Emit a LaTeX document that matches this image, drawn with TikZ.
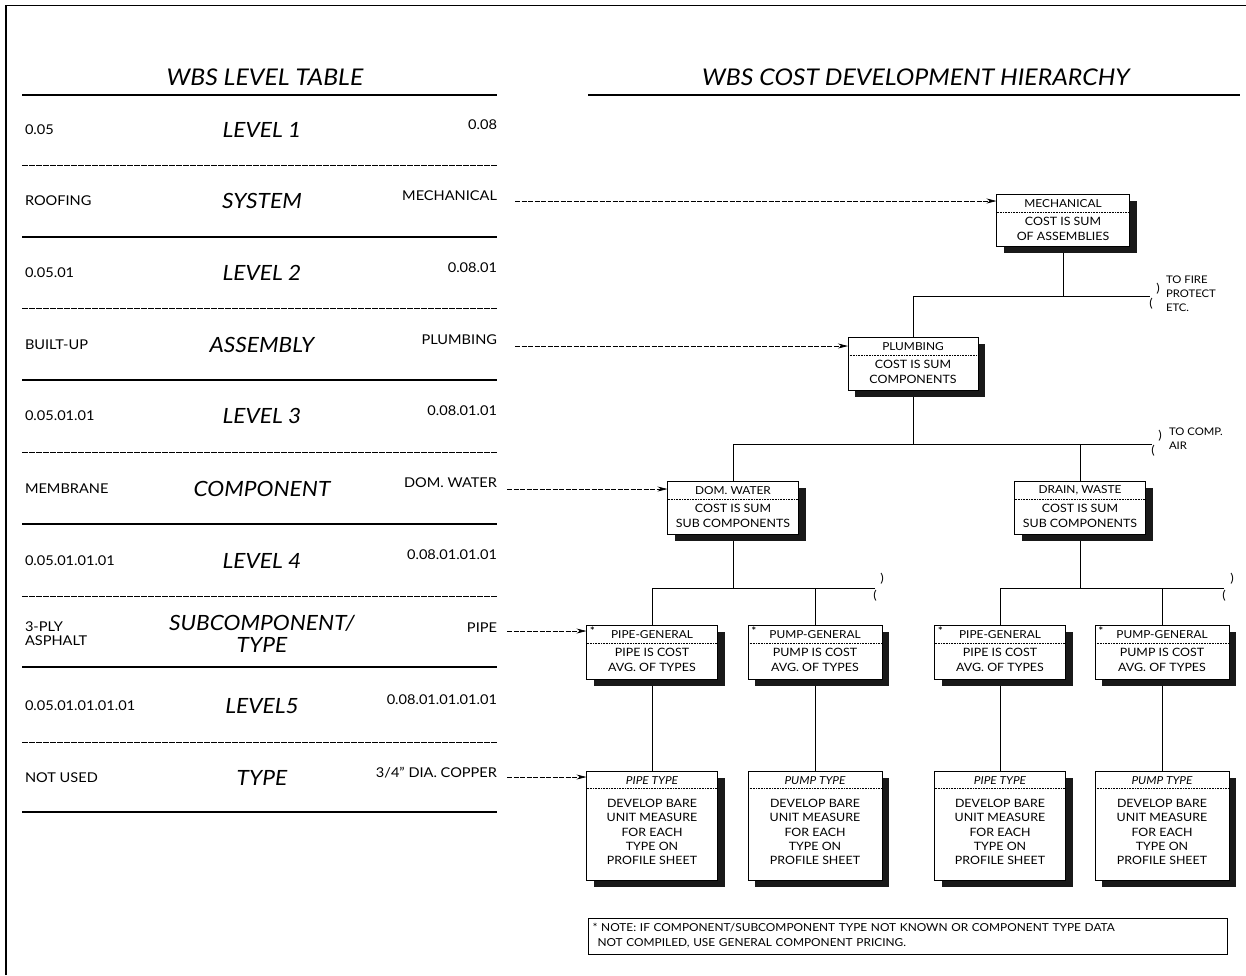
\documentclass[tikz,border=0pt]{standalone}
\usepackage{fontspec}
\setmainfont{Lato}[FakeStretch=1.08]
\usetikzlibrary{arrows.meta,shadows,calc}
\pgfdeclarelayer{bg}
\pgfsetlayers{bg,main}

% box with header, dotted separator and two-line body
\newcommand\costbox[8]{% name, cx, top, w, h, header, body, star
  \node[cbox, minimum width=#4pt, minimum height=#5pt] (#1) at (#2,#3) {};
  \node[hdr] (#1-h) at ($(#1.north)+(0,9.5)$) {#6};
  \draw[sepline] ($(#1.north west)+(0,18)$) -- ($(#1.north east)+(0,18)$);
  \node[body] (#1-b) at ($(#1.north)+(0,35)$) {#7};
  \ifx#8y\node[star] (#1-s) at ($(#1.north west)+(6,6)$) {*};\fi
}
% tall box for the type level
\newcommand\typebox[5]{% name, cx, top, w, header
  \node[cbox, minimum width=#4pt, minimum height=109pt] (#1) at (#2,#3) {};
  \node[hdr, font=\fontsize{11}{12}\selectfont\itshape] (#1-h) at ($(#1.north)+(0,9.5)$) {#5};
  \draw[sepline] ($(#1.north west)+(0,17)$) -- ($(#1.north east)+(0,17)$);
  \node[body, font=\fontsize{11.5}{14.2}\selectfont] (#1-b) at ($(#1.north)+(0,61)$) {DEVELOP BARE\\UNIT MEASURE\\FOR EACH\\TYPE ON\\PROFILE SHEET};
}

\begin{document}
\begin{tikzpicture}[x=1pt,y=-1pt,
  every node/.style={inner sep=0pt, outer sep=0pt},
  ttl/.style={font=\fontsize{23}{25}\selectfont\itshape},
  lvl/.style={font=\fontsize{21}{22}\selectfont\itshape, align=center},
  cell/.style={font=\fontsize{13.5}{14}\selectfont, anchor=west, align=left},
  rcell/.style={font=\fontsize{13.5}{14}\selectfont, anchor=east},
  thickrule/.style={line width=2.2pt},
  thinrule/.style={line width=0.8pt, dash pattern=on 6pt off 1pt},
  feed/.style={line width=0.7pt, dash pattern=on 5pt off 1.5pt, -{Stealth[length=10pt,width=5pt]}},
  tree/.style={line width=0.8pt},
  cbox/.style={draw, line width=0.7pt, fill=white, rectangle, anchor=north,
    drop shadow={shadow xshift=7pt, shadow yshift=-7pt, fill=black!90, opacity=1}},
  hdr/.style={font=\fontsize{11}{12}\selectfont},
  body/.style={font=\fontsize{11.5}{14.5}\selectfont, align=center},
  sepline/.style={line width=0.6pt, densely dotted},
  star/.style={font=\fontsize{10}{10}\selectfont\bfseries},
  brk/.style={font=\fontsize{12}{12}\selectfont},
  side/.style={font=\fontsize{10.5}{14}\selectfont, anchor=north west, align=left},
]
\useasboundingbox (0,0) rectangle (1246,975);

% sheet frame
\draw[line width=1.8pt] (6,975) -- (6,5);
\draw[line width=0.8pt] (6,5) -- (1246,5);

% ---------------- level table ----------------
\node[ttl] (t1) at (265,77) {WBS LEVEL TABLE};
\draw[thickrule] (22,95) -- (497,95);

\node[cell] (l1) at (25,130) {0.05};
\node[lvl] (c1) at (262,130) {LEVEL 1};
\node[rcell] (r1) at (497,125) {0.08};
\draw[thinrule] (22,165) -- (497,165);

\node[cell] (l2) at (25,201) {ROOFING};
\node[lvl] (c2) at (262,201) {SYSTEM};
\node[rcell] (r2) at (497,196) {MECHANICAL};
\draw[thickrule] (22,237) -- (497,237);

\node[cell] (l3) at (25,273) {0.05.01};
\node[lvl] (c3) at (262,273) {LEVEL 2};
\node[rcell] (r3) at (497,268) {0.08.01};
\draw[thinrule] (22,308) -- (497,308);

\node[cell] (l4) at (25,345) {BUILT-UP};
\node[lvl] (c4) at (262,345) {ASSEMBLY};
\node[rcell] (r4) at (497,340) {PLUMBING};
\draw[thickrule] (22,380) -- (497,380);

\node[cell] (l5) at (25,416) {0.05.01.01};
\node[lvl] (c5) at (262,416) {LEVEL 3};
\node[rcell] (r5) at (497,411) {0.08.01.01};
\draw[thinrule] (22,452) -- (497,452);

\node[cell] (l6) at (25,489) {MEMBRANE};
\node[lvl] (c6) at (262,489) {COMPONENT};
\node[rcell] (r6) at (497,483) {DOM. WATER};
\draw[thickrule] (22,524) -- (497,524);

\node[cell] (l7) at (25,561) {0.05.01.01.01};
\node[lvl] (c7) at (262,561) {LEVEL 4};
\node[rcell] (r7) at (497,555) {0.08.01.01.01};
\draw[thinrule] (22,596) -- (497,596);

\node[cell] (l8) at (25,634) {3-PLY\\ASPHALT};
\node[lvl] (c8) at (262,634) {SUBCOMPONENT/\\TYPE};
\node[rcell] (r8) at (497,628) {PIPE};
\draw[thickrule] (22,667) -- (497,667);

\node[cell] (l9) at (25,706) {0.05.01.01.01.01};
\node[lvl] (c9) at (262,706) {LEVEL5};
\node[rcell] (r9) at (497,700) {0.08.01.01.01.01};
\draw[thinrule] (22,742) -- (497,742);

\node[cell] (l10) at (25,778) {NOT USED};
\node[lvl] (c10) at (262,778) {TYPE};
\node[rcell] (r10) at (497,773) {3/4" DIA. COPPER};
\draw[thickrule] (22,812) -- (497,812);

% ---------------- cost hierarchy ----------------
\node[ttl] (t2) at (916,77) {WBS COST DEVELOPMENT HIERARCHY};
\draw[thickrule] (588,95) -- (1240,95);

\costbox{mech}{1063}{194}{133}{52}{MECHANICAL}{COST IS SUM\\OF ASSEMBLIES}{n}
\costbox{plumb}{913}{337}{130}{53}{PLUMBING}{COST IS SUM\\COMPONENTS}{n}
\costbox{dom}{733}{481}{131}{53}{DOM. WATER}{COST IS SUM\\SUB COMPONENTS}{n}
\costbox{drain}{1080}{481}{131}{53}{DRAIN, WASTE}{COST IS SUM\\SUB COMPONENTS}{n}
\costbox{pipega}{652}{625}{131}{54}{PIPE-GENERAL}{PIPE IS COST\\AVG. OF TYPES}{y}
\costbox{pumpga}{815}{625}{134}{54}{PUMP-GENERAL}{PUMP IS COST\\AVG. OF TYPES}{y}
\costbox{pipegb}{1000}{625}{131}{54}{PIPE-GENERAL}{PIPE IS COST\\AVG. OF TYPES}{y}
\costbox{pumpgb}{1162}{625}{134}{54}{PUMP-GENERAL}{PUMP IS COST\\AVG. OF TYPES}{y}

\typebox{pipeta}{652}{771}{131}{PIPE TYPE}
\typebox{pumpta}{815}{771}{134}{PUMP TYPE}
\typebox{pipetb}{1000}{771}{131}{PIPE TYPE}
\typebox{pumptb}{1162}{771}{134}{PUMP TYPE}

% junctions and open branch ends
\coordinate (j1) at (1063,296);
\coordinate (e1) at (1150,296);
\coordinate (j2) at (913,444);
\coordinate (e2) at (1152,444);
\coordinate (j3) at (733,588);
\coordinate (e3) at (875,588);
\coordinate (j4) at (1080,588);
\coordinate (e4) at (1224,588);

\node[brk] (b1a) at (1158,289) {)};
\node[brk] (b1b) at (1151,304) {(};
\node[side] (n1) at (1166,276) {TO FIRE\\PROTECT\\ETC.};
\node[brk] (b2a) at (1160,436) {)};
\node[brk] (b2b) at (1153,451) {(};
\node[side] (n2) at (1169,428) {TO COMP.\\AIR};
\node[brk] (b3a) at (882,579) {)};
\node[brk] (b3b) at (875,596) {(};
\node[brk] (b4a) at (1232,579) {)};
\node[brk] (b4b) at (1224,596) {(};

% feeds from the level table
\coordinate (f1) at (515,201);
\coordinate (f2) at (515,346);
\coordinate (f3) at (507,489);
\coordinate (f4) at (507,631);
\coordinate (f5) at (507,777);

\begin{pgfonlayer}{bg}
  \draw[tree] (mech.south) -- (j1);
  \draw[tree] (plumb.north) -- (plumb.north |- j1) -- (e1);
  \draw[tree] (plumb.south) -- (j2);
  \draw[tree] (dom.north) -- (dom.north |- j2) -- (e2);
  \draw[tree] (drain.north) -- (drain.north |- j2);
  \draw[tree] (dom.south) -- (j3);
  \draw[tree] (pipega.north) -- (pipega.north |- j3) -- (e3);
  \draw[tree] (pumpga.north) -- (pumpga.north |- j3);
  \draw[tree] (drain.south) -- (j4);
  \draw[tree] (pipegb.north) -- (pipegb.north |- j4) -- (e4);
  \draw[tree] (pumpgb.north) -- (pumpgb.north |- j4);
  \draw[tree] (pipega.south) -- (pipeta.north);
  \draw[tree] (pumpga.south) -- (pumpta.north);
  \draw[tree] (pipegb.south) -- (pipetb.north);
  \draw[tree] (pumpgb.south) -- (pumptb.north);

  \draw[feed] (f1) -- (f1 -| mech.west);
  \draw[feed] (f2) -- (f2 -| plumb.west);
  \draw[feed] (f3) -- (f3 -| dom.west);
  \draw[feed] (f4) -- (f4 -| pipega.west);
  \draw[feed] (f5) -- (f5 -| pipeta.west);
\end{pgfonlayer}

% footnote
\node[draw, line width=0.6pt, anchor=north west, minimum width=639pt, minimum height=36pt,
  text width=630pt, align=left, inner xsep=3pt, inner ysep=2pt,
  font=\fontsize{11}{15}\selectfont] (note) at (588,918)
  {* NOTE: IF COMPONENT/SUBCOMPONENT TYPE NOT KNOWN OR COMPONENT TYPE DATA\\
   \hspace*{5pt}NOT COMPILED, USE GENERAL COMPONENT PRICING.};
\end{tikzpicture}
\end{document}
